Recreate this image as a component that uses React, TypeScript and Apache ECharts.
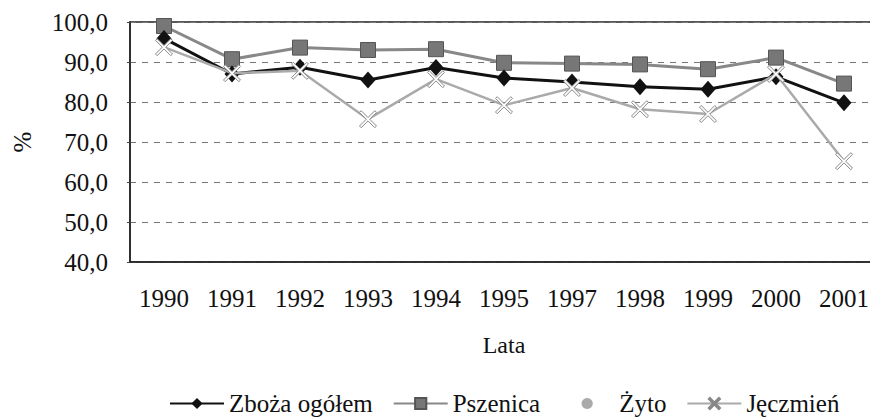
import React, { useEffect, useRef } from "react";
import * as echarts from "echarts";

const years = ["1990", "1991", "1992", "1993", "1994", "1995", "1997", "1998", "1999", "2000", "2001"];
const zbozaOgolem = [95.9, 87.0, 88.7, 85.5, 88.6, 86.0, 85.0, 83.8, 83.2, 86.3, 79.8];
const pszenica = [99.0, 90.7, 93.6, 93.0, 93.2, 89.8, 89.6, 89.4, 88.2, 91.1, 84.6];
const zyto: (number | null)[] = [null, null, null, null, null, null, null, null, null, null, null];
const jeczmien = [93.7, 87.2, 87.8, 75.7, 85.7, 79.2, 83.5, 78.2, 77.0, 87.0, 65.2];

const FONT = "Liberation Serif";
const X_SYMBOL =
  "path://M2,0L10,8L18,0L20,2L12,10L20,18L18,20L10,12L2,20L0,18L8,10L0,2Z";

export default function App() {
  const ref = useRef<HTMLDivElement>(null);
  useEffect(() => {
    if (!ref.current) return;
    const chart = echarts.init(ref.current, null, { renderer: "svg" });
    chart.setOption({
      animation: false,
      backgroundColor: "#ffffff",
      textStyle: { fontFamily: FONT, color: "#111" },
      grid: {
        left: 122,
        right: 0,
        top: 14,
        bottom: 156,
        show: true,
        borderColor: "#222",
        borderWidth: 1.5,
        outerBoundsMode: "none",
        containLabel: false,
      },
      legend: {
        top: 378,
        left: 156,
        itemWidth: 54,
        itemHeight: 14,
        itemGap: 20,
        textStyle: { fontFamily: FONT, fontSize: 25, color: "#111" },
        data: ["Zboża ogółem", "Pszenica", "Żyto", "Jęczmień"],
      },
      xAxis: {
        type: "category",
        data: years,
        boundaryGap: true,
        name: "Lata",
        nameLocation: "middle",
        nameGap: 71,
        nameTextStyle: { fontFamily: FONT, fontSize: 24, color: "#111" },
        axisLine: { lineStyle: { color: "#222", width: 1.5 } },
        axisTick: { length: 4, lineStyle: { color: "#444" } },
        axisLabel: { fontFamily: FONT, fontSize: 25, color: "#111", margin: 24 },
      },
      yAxis: {
        type: "value",
        min: 40,
        max: 100,
        interval: 10,
        name: "%",
        nameLocation: "middle",
        nameGap: 95,
        nameRotate: 90,
        nameTextStyle: { fontFamily: FONT, fontSize: 25, color: "#111" },
        axisLine: { show: true, lineStyle: { color: "#222", width: 1.5 } },
        axisTick: { show: true, length: 3, lineStyle: { color: "#444" } },
        axisLabel: {
          fontFamily: FONT,
          fontSize: 25,
          color: "#111",
          margin: 22,
          formatter: (v: number) => v.toFixed(1).replace(".", ","),
        },
        splitLine: { show: true, lineStyle: { color: "#777", type: [6, 6], width: 1 } },
      },
      series: [
        {
          name: "Zboża ogółem",
          type: "line",
          data: zbozaOgolem,
          symbol: "diamond",
          symbolSize: [15, 17],
          itemStyle: { color: "#111" },
          lineStyle: { color: "#111", width: 3 },
          z: 4,
        },
        {
          name: "Pszenica",
          type: "line",
          data: pszenica,
          symbol: "rect",
          symbolSize: 15,
          itemStyle: { color: "#777", borderColor: "#555", borderWidth: 1 },
          lineStyle: { color: "#888", width: 3 },
          z: 3,
        },
        {
          name: "Żyto",
          type: "line",
          data: zyto,
          symbol: "circle",
          symbolSize: 3,
          itemStyle: { color: "#aaa" },
          lineStyle: { color: "#fff", width: 0, opacity: 0 },
          z: 2,
        },
        {
          name: "Jęczmień",
          type: "line",
          data: jeczmien,
          symbol: X_SYMBOL,
          symbolSize: 17,
          itemStyle: { color: "#fff", borderColor: "#888", borderWidth: 1 },
          lineStyle: { color: "#aaa", width: 2.5 },
          z: 5,
        },
      ],
    });
    return () => chart.dispose();
  }, []);
  return <div ref={ref} style={{ width: 870, height: 410 }} />;
}
